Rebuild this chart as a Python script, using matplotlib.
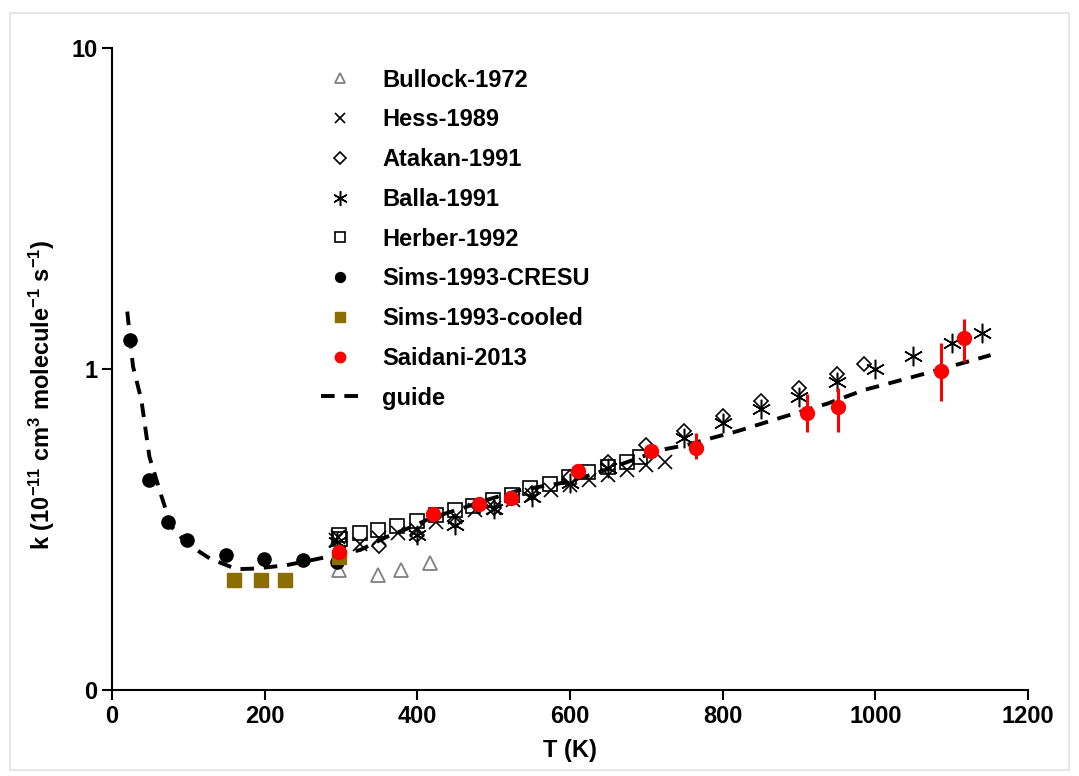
import matplotlib
matplotlib.use('Agg')
import matplotlib.pyplot as plt
from matplotlib.patches import Rectangle

plt.rcParams['font.family'] = ['Liberation Sans', 'DejaVu Sans']
plt.rcParams['font.weight'] = 'bold'
plt.rcParams['mathtext.fontset'] = 'custom'
plt.rcParams['mathtext.rm'] = 'Liberation Sans:bold'
plt.rcParams['mathtext.bf'] = 'Liberation Sans:bold'
plt.rcParams['mathtext.default'] = 'rm'

# ---- data (T in K, k in 1e-11 cm3 molecule-1 s-1) ----
bullock_T = [298, 349, 378, 416]
bullock_k = [0.2365, 0.228, 0.2365, 0.2487]

hess_T = [294, 296, 325, 350, 375, 400, 425, 450, 475, 500, 525, 550, 575,
          600, 625, 650, 675, 700, 725]
hess_k = [0.293, 0.300, 0.285, 0.297, 0.308, 0.315, 0.334, 0.345, 0.364,
          0.370, 0.390, 0.405, 0.420, 0.435, 0.451, 0.467, 0.485, 0.502, 0.514]

atakan_T = [350, 400, 450, 500, 550, 600, 650, 700, 750, 800, 850, 900, 950, 985]
atakan_k = [0.280, 0.305, 0.335, 0.370, 0.410, 0.462, 0.515, 0.580, 0.642,
            0.712, 0.795, 0.870, 0.965, 1.036]

balla_T = [295, 400, 450, 500, 550, 600, 650, 750, 800, 850, 900, 950, 1000,
           1050, 1100, 1140]
balla_k = [0.290, 0.304, 0.327, 0.366, 0.398, 0.440, 0.490, 0.608, 0.678,
           0.751, 0.820, 0.913, 0.998, 1.098, 1.208, 1.291]

herber_T = [297, 299, 325, 349, 374, 399, 424, 449, 473, 499, 524, 548, 574,
            599, 624, 650, 675, 692]
herber_k = [0.304, 0.296, 0.3076, 0.315, 0.324, 0.336, 0.351, 0.3636, 0.375,
            0.3906, 0.405, 0.425, 0.438, 0.462, 0.479, 0.495, 0.514, 0.533]

cresu_T = [24, 48, 74, 98, 149, 199, 250, 295]
cresu_k = [1.23, 0.450, 0.334, 0.293, 0.263, 0.256, 0.254, 0.250]

cooled_T = [160, 195, 227, 297]
cooled_k = [0.220, 0.220, 0.220, 0.259]

saidani_T = [298, 420, 481, 523, 611, 706, 765, 910, 951, 1086, 1116]
saidani_k = [0.270, 0.353, 0.379, 0.397, 0.482, 0.557, 0.566, 0.728, 0.760,
             0.986, 1.246]
saidani_lo = [0.01, 0.01, 0.01, 0.01, 0.01, 0.015, 0.042, 0.093, 0.125, 0.19, 0.197]
saidani_hi = [0.01, 0.01, 0.01, 0.01, 0.01, 0.015, 0.064, 0.108, 0.114, 0.22, 0.185]

guide_T = [20, 27.5, 38.5, 49, 65, 78, 98, 128, 163, 189, 229, 262, 325, 360,
           395, 417, 452, 491, 535, 587, 627, 683, 718, 753, 784, 819, 880,
           937, 985, 1050, 1112, 1151]
guide_k = [1.51, 1.02, 0.80, 0.533, 0.40, 0.3225, 0.286, 0.257, 0.238, 0.239,
           0.245, 0.254, 0.273, 0.300, 0.324, 0.343, 0.364, 0.391, 0.420,
           0.4405, 0.4675, 0.521, 0.559, 0.580, 0.608, 0.640, 0.710, 0.780,
           0.860, 0.946, 1.040, 1.105]

gold = '#8c6d00'

fig = plt.figure(figsize=(10.79, 7.76), dpi=100)
fig.patches.append(Rectangle((10 / 1079, 6 / 776), 1059 / 1079, 757 / 776,
                             transform=fig.transFigure, fill=False,
                             edgecolor='#e6e6e6', linewidth=1.5))
ax = fig.add_axes([0.1038, 0.1108, 0.8489, 0.8273])

ms = 9.5
ax.plot(bullock_T, bullock_k, '^', ms=ms, mfc='none', mec='#808080', mew=1.3,
        label='Bullock-1972')
ax.plot(hess_T, hess_k, 'x', ms=ms, color='black', mew=1.2, label='Hess-1989')
ax.plot(atakan_T, atakan_k, 'D', ms=7.5, mfc='none', mec='black', mew=1.2,
        label='Atakan-1991')
ax.plot(balla_T, balla_k, marker=(6, 2, 0), ls='none', ms=14, color='black',
        mew=1.1, label='Balla-1991')
ax.plot(herber_T, herber_k, 's', ms=ms, mfc='none', mec='black', mew=1.2,
        label='Herber-1992')
ax.plot(cresu_T, cresu_k, 'o', ms=ms, color='black', label='Sims-1993-CRESU')
ax.plot(cooled_T, cooled_k, 's', ms=ms, color=gold, label='Sims-1993-cooled')
ax.plot(guide_T, guide_k, ls=(0, (3.5, 2.5)), color='black', lw=2.8,
        label='guide', zorder=3)
ax.errorbar(saidani_T, saidani_k, yerr=[saidani_lo, saidani_hi], fmt='none',
            ecolor='red', elinewidth=2.2, capsize=0, zorder=4)
ax.plot(saidani_T, saidani_k, 'o', ms=ms + 0.5, color='red',
        label='Saidani-2013', zorder=5)

ax.set_yscale('log')
ax.set_xlim(0, 1200)
ax.set_ylim(0.1, 10)
ax.set_xticks([0, 200, 400, 600, 800, 1000, 1200])
ax.set_yticks([0.1, 1, 10])
ax.set_yticklabels(['0', '1', '10'])
ax.minorticks_off()
ax.tick_params(labelsize=17, width=1.5, length=7, direction='out')
for side in ('top', 'right'):
    ax.spines[side].set_visible(False)
for side in ('left', 'bottom'):
    ax.spines[side].set_linewidth(1.5)

ax.set_xlabel('T (K)', fontsize=17, fontweight='bold', labelpad=8)
ax.set_ylabel(r'k (10$^{-11}$ cm$^{3}$ molecule$^{-1}$ s$^{-1}$)',
              fontsize=17, fontweight='bold')
ax.yaxis.set_label_coords(-0.060, 0.46)

handles, labels = ax.get_legend_handles_labels()
order = ['Bullock-1972', 'Hess-1989', 'Atakan-1991', 'Balla-1991',
         'Herber-1992', 'Sims-1993-CRESU', 'Sims-1993-cooled', 'Saidani-2013',
         'guide']
hmap = dict(zip(labels, handles))
ax.legend([hmap[o] for o in order], order, loc='upper left',
          bbox_to_anchor=(0.228, 0.968), frameon=False, fontsize=17,
          markerscale=0.75, handlelength=1.6, handletextpad=1.0,
          labelspacing=0.71, borderpad=0, borderaxespad=0)

fig.savefig('out.png', dpi=100)
